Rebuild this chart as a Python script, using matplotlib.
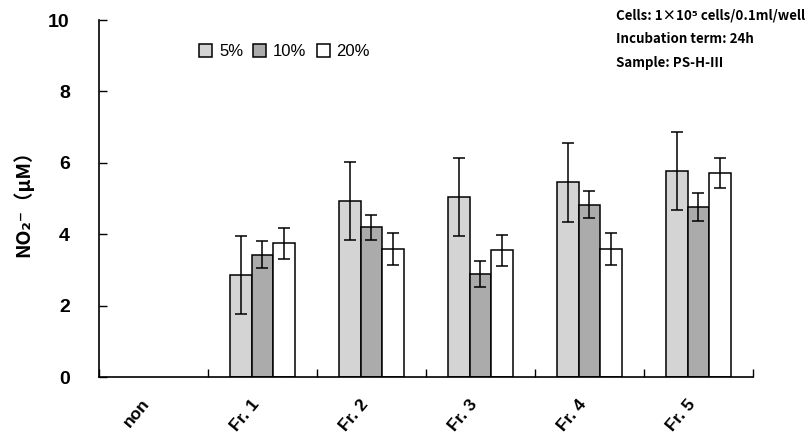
import matplotlib
matplotlib.use("Agg")
import matplotlib.pyplot as plt
import matplotlib.patches as mpatches
import matplotlib.transforms as mtransforms
import numpy as np

# ── Data ──────────────────────────────────────────────────────────────────
categories = ["non", "Fr. 1", "Fr. 2", "Fr. 3", "Fr. 4", "Fr. 5"]
series_labels = ["5%", "10%", "20%"]

# non has no bars
mean_5 = [np.nan, 2.86, 4.93, 5.04, 5.45, 5.77]
mean_10 = [np.nan, 3.43, 4.19, 2.89, 4.83, 4.76]
mean_20 = [np.nan, 3.74, 3.59, 3.55, 3.59, 5.72]

err_5 = [0, 1.10, 1.08, 1.09, 1.10, 1.09]
err_10 = [0, 0.38, 0.36, 0.36, 0.38, 0.39]
err_20 = [0, 0.43, 0.45, 0.43, 0.45, 0.42]

y_ticks = [0, 2, 4, 6, 8, 10]

info_lines = [
    "Cells: 1×10⁵ cells/0.1ml/well",
    "Incubation term: 24h",
    "Sample: PS-H-Ⅲ",
]

# ── Chart ─────────────────────────────────────────────────────────────────
COLORS = ["#d4d4d4", "#ababab", "#ffffff"]
CJK = ["Noto Sans CJK JP", "DejaVu Sans"]

fig = plt.figure(figsize=(8.12, 4.32), dpi=100)
ax = fig.add_axes([0.1219, 0.1273, 0.8054, 0.8264])

xs = np.arange(len(categories))
bar_w = 0.2
means = [mean_5, mean_10, mean_20]
errs = [err_5, err_10, err_20]

for k in range(3):
    pos = xs + (k - 1) * bar_w
    m = np.array(means[k], dtype=float)
    e = np.array(errs[k], dtype=float)
    ok = ~np.isnan(m)
    ax.bar(pos[ok], m[ok], bar_w, color=COLORS[k], edgecolor="black",
           linewidth=1.1, zorder=2)
    ax.errorbar(pos[ok], m[ok], yerr=e[ok], fmt="none", ecolor="black",
                elinewidth=1.1, capsize=4, capthick=1.1, zorder=3)

ax.set_xlim(-0.5, len(categories) - 0.5)
ax.set_ylim(0, 10)
ax.set_yticks(y_ticks)
ax.set_yticklabels([str(v) for v in y_ticks], fontsize=14,
                   fontweight="bold", family="Liberation Sans")
ax.tick_params(axis="y", direction="in", length=6, width=1, pad=21)

ax.set_xticks(np.arange(-0.5, len(categories)), minor=True)
ax.set_xticks(xs)
ax.set_xticklabels(categories, rotation=50, ha="right",
                   rotation_mode="anchor", fontsize=12.5, fontweight="bold",
                   family="Liberation Sans")
ax.tick_params(axis="x", which="major", length=0, pad=14)
ax.tick_params(axis="x", which="minor", direction="in", length=6, width=1)
shift = mtransforms.ScaledTranslation(-12 / 100, 0, fig.dpi_scale_trans)
for lbl in ax.get_xticklabels():
    lbl.set_transform(lbl.get_transform() + shift)

for spine in ("top", "right"):
    ax.spines[spine].set_visible(False)
for spine in ("left", "bottom"):
    ax.spines[spine].set_linewidth(1.2)

ax.set_ylabel("NO₂⁻（μM）", family=CJK, fontweight="bold", fontsize=14,
              labelpad=11)

handles = [mpatches.Patch(facecolor=c, edgecolor="black", linewidth=1.1,
                          label=l) for c, l in zip(COLORS, series_labels)]
ax.legend(handles=handles, loc="upper left", bbox_to_anchor=(0.13, 0.975),
          ncol=3, frameon=False, handlelength=0.8,
          handleheight=0.8, handletextpad=0.4, columnspacing=0.6,
          prop={"family": "Liberation Sans", "size": 12})

for i, line in enumerate(info_lines):
    fig.text(0.759, 0.963 - i * 0.054, line, family=CJK, fontweight="bold",
             fontsize=9.6, ha="left", va="center")

fig.savefig("out.png", dpi=100, facecolor="white")
